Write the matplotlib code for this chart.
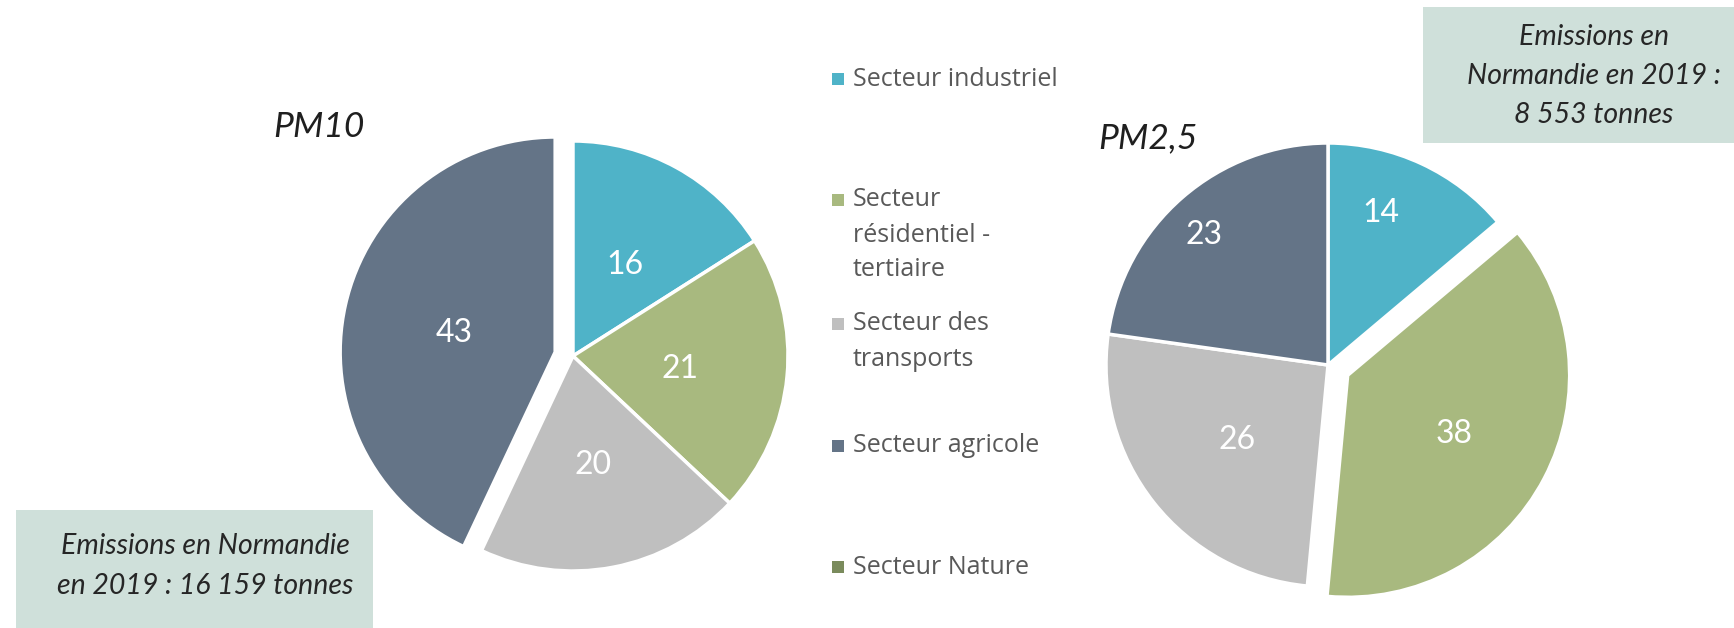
import numpy as np
import matplotlib
matplotlib.use("Agg")
from matplotlib import pyplot as plt
from matplotlib.patches import Rectangle

# secteurs (ordre de la légende)
secteurs = ["Secteur industriel", "Secteur\nrésidentiel -\ntertiaire",
            "Secteur des\ntransports", "Secteur agricole", "Secteur Nature"]
couleurs = ["#4FB3C8", "#A8B97F", "#BFBFBF", "#647487", "#7A8B5C"]

# parts des émissions en %, 2019
pm10 = [16, 21, 20, 43]
pm25 = [14, 38, 26, 23]

titres = ["PM10", "PM2,5"]
notes = ["Emissions en Normandie\nen 2019 : 16 159 tonnes",
         "Emissions en\nNormandie en 2019 :\n8 553 tonnes"]

W, H = 1734, 628
fig = plt.figure(figsize=(W / 100, H / 100), dpi=100)

# fond en coordonnées pixels (y vers le bas)
bg = fig.add_axes([0, 0, 1, 1])
bg.set_xlim(0, W)
bg.set_ylim(H, 0)
bg.axis("off")


def add_pie(values, cx, cy, r, explode, dists, shifts):
    # axes carré : rayon 1 = r pixels
    side = 2.5 * r
    ax = fig.add_axes([(cx - side / 2) / W, (H - cy - side / 2) / H, side / W, side / H])
    ax.set_facecolor("none")
    total = sum(values)
    wedges, _, autotexts = ax.pie(
        values, colors=couleurs[:len(values)], startangle=90, counterclock=False,
        explode=explode, autopct=lambda p: f"{round(p * total / 100):.0f}",
        wedgeprops=dict(edgecolor="white", linewidth=2.5),
        textprops=dict(color="white", fontsize=23, family="Lato"))
    # étiquettes déplacées à la main dans chaque part
    for w, t, d, s in zip(wedges, autotexts, dists, shifts):
        th = np.radians((w.theta1 + w.theta2) / 2 + s)
        t.set_position((w.center[0] + d * w.r * np.cos(th), w.center[1] + d * w.r * np.sin(th)))
        t.set_va("center_baseline")
    ax.set_xlim(-1.25, 1.25)
    ax.set_ylim(-1.25, 1.25)
    ax.set_aspect("equal")
    ax.axis("off")
    return ax


add_pie(pm10, 573, 356, 215, [0, 0, 0, 0.085], [0.5, 0.5, 0.5, 0.48], [0, 0, 0, 0])
add_pie(pm25, 1328, 365, 222, [0, 0.10, 0, 0], [0.74, 0.54, 0.52, 0.82], [6, 0, 0, 2])

# titres
bg.text(273, 137, titres[0], fontsize=25.5, style="italic", family="Lato",
        color="#1F1F1F", va="baseline")
bg.text(1098, 148, titres[1], fontsize=25.5, style="italic", family="Lato",
        color="#1F1F1F", va="baseline")

# légende
leg_y = [79, 200, 324, 446, 567]
for lab, col, y0 in zip(secteurs, couleurs, leg_y):
    bg.add_patch(Rectangle((832, y0 - 6), 12, 12, color=col, lw=0))
    for i, line in enumerate(lab.split("\n")):
        bg.text(853, y0 + i * 35, line, fontsize=18, family="Open Sans",
                color="#595959", va="center")

# encadrés
box_col = "#CFE0DA"
bg.add_patch(Rectangle((16, 510), 357, 118, color=box_col, lw=0))
bg.text(205, 566, notes[0], fontsize=20.5, style="italic", family="Lato",
        color="#262626", ha="center", va="center", linespacing=1.62)
bg.add_patch(Rectangle((1423, 7), 311, 136, color=box_col, lw=0))
bg.text(1594, 76, notes[1], fontsize=20.5, style="italic", family="Lato",
        color="#262626", ha="center", va="center", linespacing=1.62)

fig.savefig("out.png", dpi=100)
